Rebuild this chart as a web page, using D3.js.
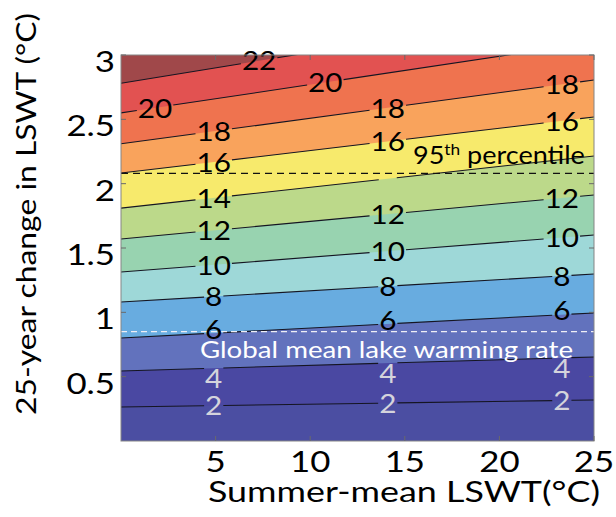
<!DOCTYPE html>
<meta charset="utf-8">
<style>
body { margin: 0; background: #fff; }
text { font-family: Lato, "Open Sans", sans-serif; }
</style>
<html>
<body>
<div id="chart"></div>
<script src="https://d3js.org/d3.v7.min.js"></script>
<script>

// contour levels and where each (straight) contour line meets the left (x=0) and right (x=25) edges
var levels  = [2, 4, 6, 8, 10, 12, 14, 16, 18, 20, 22];
var yAtLeft  = [0.264, 0.544, 0.80, 1.08, 1.313, 1.57, 1.81, 2.083, 2.31, 2.55, 2.78];
var yAtRight = [0.319, 0.653, 0.995, 1.298, 1.601, 1.912, 2.215, 2.518, 2.806, 3.10, 3.38];

// band colours, from below 2 up to above 22
var bandColors = ["#4b4ea2", "#4a48a2", "#6272bd", "#68ace0", "#9ed8d8", "#98d3b0",
                  "#bcd98a", "#f7ea6c", "#f9a35c", "#ef734f", "#e25251", "#a0484a"];

// inline contour labels: level and x position (shown 0 = gap without text)
var labelLevel = [22, 20, 18, 16, 14, 12, 10, 8, 6, 4, 2,
                  20, 18, 16, 14, 12, 10, 8, 6, 4, 2,
                  18, 16, 12, 10, 8, 6, 4, 2];
var labelX     = [7.3, 1.8, 4.9, 4.9, 4.9, 4.9, 4.9, 4.9, 4.9, 4.9, 4.9,
                  10.8, 14.1, 14.1, 14.1, 14.1, 14.1, 14.1, 14.1, 14.1, 14.1,
                  23.3, 23.3, 23.3, 23.3, 23.3, 23.3, 23.3, 23.3];
var labelShown = [1,1,1,1,1,1,1,1,1,1,1,
                  1,1,1,0,1,1,1,1,1,1,
                  1,1,1,1,1,1,1,1];

var xTicks = [5, 10, 15, 20, 25];
var yTicks = [0.5, 1, 1.5, 2, 2.5, 3];

var p95 = 2.08;          // 95th percentile
var globalMean = 0.85;   // global mean lake warming rate

var W = 616, H = 517;
var margin = {top: 55, right: 22, bottom: 76, left: 121};

var svg = d3.select("#chart").append("svg")
    .attr("width", W).attr("height", H);

var x = d3.scaleLinear().domain([0, 25]).range([margin.left, W - margin.right]);
var y = d3.scaleLinear().domain([0, 3]).range([H - margin.bottom, margin.top]);

function lineY(i, xv) {
  return yAtLeft[i] + (yAtRight[i] - yAtLeft[i]) * (xv - 0) / 25;
}

svg.append("clipPath").attr("id", "plotclip")
  .append("rect")
    .attr("x", x(0)).attr("y", y(3))
    .attr("width", x(25) - x(0)).attr("height", y(0) - y(3));

var plot = svg.append("g").attr("clip-path", "url(#plotclip)");

// top band as background, then each band below a contour drawn on top
plot.append("rect")
  .attr("x", x(0)).attr("y", y(3))
  .attr("width", x(25) - x(0)).attr("height", y(0) - y(3))
  .attr("fill", bandColors[levels.length]);

for (var i = levels.length - 1; i >= 0; i--) {
  var pts = [[x(0), y(0)], [x(25), y(0)], [x(25), y(yAtRight[i])], [x(0), y(yAtLeft[i])]];
  plot.append("path")
    .attr("d", "M" + pts.join("L") + "Z")
    .attr("fill", bandColors[i]);
}

// labels first (so we know the gaps)
var labels = [];
labelLevel.forEach(function(lv, k) {
  var i = levels.indexOf(lv);
  labels.push({i: i, lv: lv, xv: labelX[k], show: labelShown[k]});
});

var labG = svg.append("g");
labels.forEach(function(d) {
  var px = x(d.xv), py = y(lineY(d.i, d.xv));
  if (d.lv === 4) py += 10;   // these sit just under their line
  if (d.lv === 6) py -= 4;    // and these a little above it
  if (!d.show) { d.w = 18; d.px = px; return; }
  var t = labG.append("text")
    .attr("text-anchor", "middle")
    .attr("dy", "0.36em")
    .style("font-size", "27px")
    .attr("fill", d.lv <= 4 ? "#d4d4dc" : "#000")
    .text(d.lv);
  var sx = 1.1;
  t.attr("transform", "translate(" + px + "," + py + ") scale(" + sx + ",1)");
  d.w = t.node().getComputedTextLength() * sx + 2;
  d.px = px;
});

// contour lines with inline gaps
levels.forEach(function(lv, i) {
  var gaps = labels.filter(function(d) { return d.i === i; })
    .map(function(d) { return [d.px - d.w / 2, d.px + d.w / 2]; })
    .sort(function(a, b) { return a[0] - b[0]; });
  var start = x(0);
  var segs = [];
  gaps.forEach(function(g) { segs.push([start, g[0]]); start = g[1]; });
  segs.push([start, x(25)]);
  segs.forEach(function(s) {
    if (s[1] <= s[0]) return;
    var a = x.invert(s[0]), b = x.invert(s[1]);
    plot.append("line")
      .attr("x1", s[0]).attr("y1", y(lineY(i, a)))
      .attr("x2", s[1]).attr("y2", y(lineY(i, b)))
      .attr("stroke", "#151522")
      .attr("stroke-width", 1.1);
  });
});

// reference lines
plot.append("line")
  .attr("x1", x(0)).attr("x2", x(25))
  .attr("y1", y(p95)).attr("y2", y(p95))
  .attr("stroke", "#111").attr("stroke-width", 1.3)
  .attr("stroke-dasharray", "7,5");
plot.append("line")
  .attr("x1", x(0)).attr("x2", x(25))
  .attr("y1", y(globalMean)).attr("y2", y(globalMean))
  .attr("stroke", "#eeeef5").attr("stroke-width", 1.3)
  .attr("stroke-dasharray", "6,4");

// frame
svg.append("rect")
  .attr("x", x(0)).attr("y", y(3))
  .attr("width", x(25) - x(0)).attr("height", y(0) - y(3))
  .attr("fill", "none").attr("stroke", "#858585").attr("stroke-width", 1);

// inward ticks on all four sides
var tickLen = 5;
var tk = svg.append("g").attr("stroke", "#6a6a6a").attr("stroke-width", 1);
xTicks.forEach(function(t) {
  tk.append("line").attr("x1", x(t)).attr("x2", x(t)).attr("y1", y(0)).attr("y2", y(0) - tickLen);
  tk.append("line").attr("x1", x(t)).attr("x2", x(t)).attr("y1", y(3)).attr("y2", y(3) + tickLen);
});
yTicks.forEach(function(t) {
  tk.append("line").attr("x1", x(0)).attr("x2", x(0) + tickLen).attr("y1", y(t)).attr("y2", y(t));
  tk.append("line").attr("x1", x(25)).attr("x2", x(25) - tickLen).attr("y1", y(t)).attr("y2", y(t));
});

// tick labels
var tl = svg.append("g").style("font-size", "29px").attr("fill", "#000");
xTicks.forEach(function(t) {
  tl.append("text")
    .attr("text-anchor", "middle")
    .attr("transform", "translate(" + x(t) + "," + (y(0) + 31) + ") scale(1.2,1)")
    .text(t);
});
yTicks.forEach(function(t) {
  tl.append("text")
    .attr("text-anchor", "end")
    .attr("transform", "translate(" + (x(0) - 6) + "," + (y(t) + 17) + ") scale(1.2,1)")
    .text(t);
});

// axis titles
svg.append("text")
  .attr("x", 208).attr("y", 502)
  .style("font-size", "28px")
  .attr("textLength", 392).attr("lengthAdjust", "spacingAndGlyphs")
  .text("Summer-mean LSWT(°C)");

svg.append("text")
  .attr("transform", "translate(36,415) rotate(-90)")
  .style("font-size", "27px")
  .attr("textLength", 402).attr("lengthAdjust", "spacingAndGlyphs")
  .text("25-year change in LSWT (°C)");

// annotations
svg.append("text")
  .attr("x", 200).attr("y", 358)
  .style("font-size", "24px")
  .attr("fill", "#fff")
  .attr("textLength", 373).attr("lengthAdjust", "spacingAndGlyphs")
  .text("Global mean lake warming rate");

var pt = svg.append("text")
  .style("font-size", "25px")
  .attr("fill", "#000");
pt.append("tspan").text("95");
pt.append("tspan").attr("dy", -9).style("font-size", "16px").text("th");
pt.append("tspan").attr("dy", 9).text(" percentile");
var ptw = pt.node().getComputedTextLength();
pt.attr("transform", "translate(413,164) scale(" + (172 / ptw) + ",1)");

</script>
</body>
</html>
